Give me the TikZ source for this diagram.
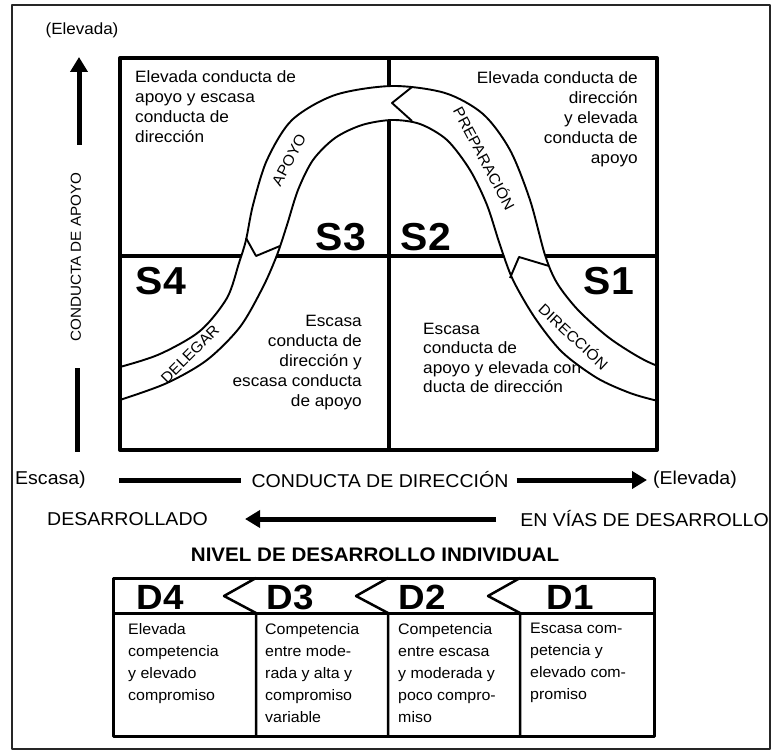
\documentclass[tikz,border=0pt]{standalone}
\usepackage{fontspec}
\setmainfont{Liberation Sans}[FakeStretch=1.05]
\usetikzlibrary{arrows.meta,positioning}

\begin{document}
\begin{tikzpicture}[x=1pt,y=-1pt,line join=round,
every node/.style={inner sep=0pt},
qtext/.style={font=\fontsize{16.4}{20}\selectfont},
slab/.style={font=\fontsize{39}{39}\selectfont\bfseries},
dlab/.style={font=\fontsize{35}{35}\selectfont\bfseries},
bandtxt/.style={font=\fontsize{15}{15}\selectfont},
axis/.style={font=\fontsize{18.6}{18.6}\selectfont},
dtext/.style={font=\fontsize{15.2}{22}\selectfont,align=left,anchor=north west},
grid/.style={line width=3.5pt},
edge/.style={line width=1.9pt},
thickbar/.style={line width=5pt},
thickarr/.style={line width=5pt,-{Triangle[length=15pt,width=17pt]}}]
\useasboundingbox (0,0) rectangle (773,754);
\draw[line width=1.8pt,black!85] (12,5) rectangle (770,749);
% quadrants
\draw[grid] (389,58) -- (389,450);
\draw[grid] (120,256) -- (657,256);
\node[qtext,align=left,anchor=north west] (qtl) at (135,70) {Elevada conducta de\\apoyo y escasa\\conducta de\\dirección};
\node[qtext,align=right,anchor=north east] (qtr) at (638,71) {Elevada conducta de\\dirección\\y elevada\\conducta de\\apoyo};
\node[qtext,align=right,anchor=north east] (qbl) at (362,315) {Escasa\\conducta de\\dirección y\\escasa conducta\\de apoyo};
\node[font=\fontsize{16.4}{19.5}\selectfont,align=left,anchor=north west] (qbr) at (423,323) {Escasa\\conducta de\\apoyo y elevada con\\ducta de dirección};
% band
\begin{scope}
\clip (120,58) rectangle (657,450);
\fill[white] plot[smooth] coordinates {(100,371) (120,367) (160,354) (200,331) (227,298) (239,263) (246,240) (253,205) (267,160) (292,120) (335,95) (392,86) (445,93) (483,114) (510,150) (530,200) (545,255) (557,283) (578,310) (608,337) (637,356) (658,366) (678,369)}
  -- plot[smooth] coordinates {(678,405) (658,401) (630,393) (597,378) (562,352) (535,318) (513,280) (500,245) (487,205) (470,170) (447,140) (420,124) (392,120) (362,125) (335,138) (313,160) (298,190) (287,225) (277,255) (263,287) (240,327) (207,360) (167,383) (120,400) (100,406)} -- cycle;
\draw[edge] plot[smooth] coordinates {(100,371) (120,367) (160,354) (200,331) (227,298) (239,263) (246,240) (253,205) (267,160) (292,120) (335,95) (392,86) (445,93) (483,114) (510,150) (530,200) (545,255) (557,283) (578,310) (608,337) (637,356) (658,366) (678,369)};
\draw[edge] plot[smooth] coordinates {(100,406) (120,400) (167,383) (207,360) (240,327) (263,287) (277,255) (287,225) (298,190) (313,160) (335,138) (362,125) (392,120) (420,124) (447,140) (470,170) (487,205) (500,245) (513,280) (535,318) (562,352) (597,378) (630,393) (658,401) (678,405)};
\end{scope}
\draw[edge] (412,87) -- (392,103) -- (412,121);
\draw[edge] (246,238) -- (256,256) -- (280,246);
\draw[edge] (510,278) -- (519,257) -- (549,266);
\draw[line width=4pt] (120,58) rectangle (657,450);
\node[bandtxt,rotate=62] (apoyo) at (289,160) {APOYO};
\node[bandtxt,rotate=-62] (prep) at (485,158) {PREPARACIÓN};
\node[bandtxt,rotate=45] (deleg) at (190,354) {DELEGAR};
\node[bandtxt,rotate=-43] (direc) at (574,336) {DIRECCIÓN};
\node[slab] (s3) at (341,237) {S3};
\node[slab] (s2) at (426,237) {S2};
\node[slab] (s4) at (161,281) {S4};
\node[slab] (s1) at (609,281) {S1};
% support axis
\node[font=\fontsize{16.2}{16.2}\selectfont] (elevT) at (82,30) {(Elevada)};
\coordinate (uptop) at (79,57);
\coordinate (upbot) at (79,145);
\draw[thickarr] (upbot) -- (uptop);
\node[font=\fontsize{14.5}{14.5}\selectfont,rotate=90] (capoyo) at (76,257) {CONDUCTA DE APOYO};
\coordinate (lowtop) at (77,368);
\coordinate (lowbot) at (77,452);
\draw[thickbar] (lowtop) -- (lowbot);
% direction axis
\node[axis,anchor=west] (escasa) at (15,480) {Escasa)};
\node[axis] (cdir) at (380,480) {CONDUCTA DE DIRECCIÓN};
\node[axis,anchor=west] (elevR) at (653,480) {(Elevada)};
\coordinate (dirstart) at (119,480);
\draw[thickbar] (dirstart) -- ([xshift=-10pt]cdir.west);
\draw[thickarr] ([xshift=8pt]cdir.east) -- ([xshift=-6pt]elevR.west);
% development
\node[axis,anchor=west] (desa) at (47,519) {DESARROLLADO};
\node[axis,anchor=east] (envias) at (769,519) {EN VÍAS DE DESARROLLO};
\draw[thickarr] ([xshift=-24pt]envias.west) -- ([xshift=37pt]desa.east);
\node[font=\fontsize{19.6}{19.6}\selectfont\bfseries] (nivel) at (375,555) {NIVEL DE DESARROLLO INDIVIDUAL};
% table
\draw[line width=3pt] (113,578) rectangle (654,736);
\draw[line width=3pt] (113,613) -- (654,613);
\foreach \xb in {256,388,520}
  \draw[line width=2.5pt] (\xb,578) -- (\xb-32,596) -- (\xb,613) -- (\xb,736);
\node[dlab] (d4) at (160,597) {D4};
\node[dlab] (d3) at (290,597) {D3};
\node[dlab] (d2) at (422,597) {D2};
\node[dlab] (d1) at (570,597) {D1};
\node[dtext] (t4) at (128,623) {Elevada\\competencia\\y elevado\\compromiso};
\node[dtext] (t3) at (265,623) {Competencia\\entre mode-\\rada y alta y\\compromiso\\variable};
\node[dtext] (t2) at (398,623) {Competencia\\entre escasa\\y moderada y\\poco compro-\\miso};
\node[dtext] (t1) at (530,623) {Escasa com-\\petencia y\\elevado com-\\promiso};
\end{tikzpicture}
\end{document}
